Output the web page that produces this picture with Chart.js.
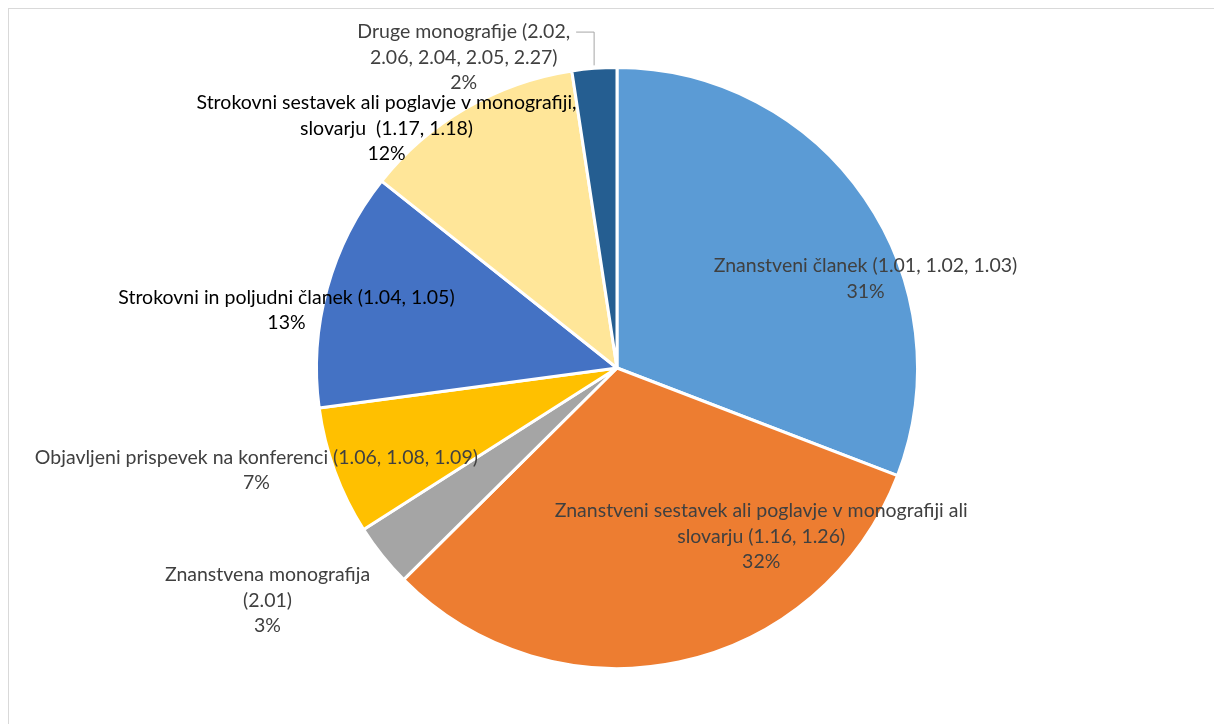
<!DOCTYPE html>
<html lang="sl">
<head>
  <meta charset="UTF-8">
  <title>Vrste objav</title>
  <script src="https://cdn.jsdelivr.net/npm/chart.js"></script>
  <style>
    body { margin: 0; background: #fff; }
    #wrap { position: relative; width: 1214px; height: 724px; }
    #frame { position: absolute; left: 8px; top: 8px; right: 0; bottom: 0;
             border-left: 1px solid #d9d9d9; border-top: 1px solid #d9d9d9; }
    canvas { position: absolute; left: 0; top: 0; }
  </style>
</head>
<body>
<div id="wrap">
  <div id="frame"></div>
  <canvas id="pieChart" width="1214" height="724"></canvas>
</div>

<script>
  // categories and shares (%)
  const categories = [
    ['Znanstveni članek (1.01, 1.02, 1.03)'],
    ['Znanstveni sestavek ali poglavje v monografiji ali', 'slovarju (1.16, 1.26)'],
    ['Znanstvena monografija', '(2.01)'],
    ['Objavljeni prispevek na konferenci (1.06, 1.08, 1.09)'],
    ['Strokovni in poljudni članek (1.04, 1.05)'],
    ['Strokovni sestavek ali poglavje v monografiji,', 'slovarju  (1.17, 1.18)'],
    ['Druge monografije (2.02,', '2.06, 2.04, 2.05, 2.27)']
  ];
  const shares = [30.8, 31.7, 3.4, 6.9, 12.8, 11.9, 2.4];
  const colors = ['#5B9BD5', '#ED7D31', '#A5A5A5', '#FFC000', '#4472C4', '#FFE699', '#255E91'];

  // label placement relative to pie centre, in units of the radius
  const labelPos = [
    [0.827, -0.297], [0.48, 0.56], [-1.163, 0.773], [-1.2, 0.34],
    [-1.1, -0.193], [-0.767, -0.797], [-0.51, -1.033]
  ];
  const labelColor = ['#404040', '#404040', '#404040', '#404040', '#000000', '#000000', '#404040'];

  const pieLabels = {
    id: 'pieLabels',
    afterDatasetsDraw(chart) {
      const ctx = chart.ctx;
      const meta = chart.getDatasetMeta(0);
      const total = shares.reduce((a, b) => a + b, 0);
      ctx.save();
      ctx.font = '19.5px Lato, "Open Sans", sans-serif';
      ctx.textAlign = 'center';
      ctx.textBaseline = 'middle';
      const lh = 25.5;
      meta.data.forEach((arc, i) => {
        const { x, y, outerRadius, startAngle, endAngle } = arc.getProps(['x', 'y', 'outerRadius', 'startAngle', 'endAngle'], true);
        const lines = categories[i].concat([Math.round(shares[i] / total * 100) + '%']);
        const cx = x + labelPos[i][0] * outerRadius;
        const cy = y + labelPos[i][1] * outerRadius;
        ctx.fillStyle = labelColor[i];
        lines.forEach((t, k) => {
          ctx.fillText(t, cx, cy + (k - (lines.length - 1) / 2) * lh);
        });
        if (i === 6) {
          // leader line from the label to the small slice
          const mid = (startAngle + endAngle) / 2;
          const ex = x + Math.cos(mid) * outerRadius * 1.01;
          const ey = y + Math.sin(mid) * outerRadius * 1.01;
          const w = ctx.measureText(lines[0]).width;
          const sy = cy - lh;
          ctx.strokeStyle = '#A6A6A6';
          ctx.lineWidth = 1;
          ctx.beginPath();
          ctx.moveTo(cx + w / 2 + 6, sy);
          ctx.lineTo(ex, sy);
          ctx.lineTo(ex, ey);
          ctx.stroke();
        }
      });
      ctx.restore();
    }
  };

  new Chart(document.getElementById('pieChart'), {
    type: 'pie',
    data: {
      labels: categories.map(c => c.join(' ')),
      datasets: [{
        data: shares,
        backgroundColor: colors,
        borderColor: '#ffffff',
        borderWidth: 3
      }]
    },
    options: {
      responsive: false,
      animation: false,
      layout: { padding: { left: 20, right: 0, top: 66, bottom: 54 } },
      plugins: {
        legend: { display: false },
        tooltip: { enabled: false }
      }
    },
    plugins: [pieLabels]
  });
</script>
</body>
</html>
